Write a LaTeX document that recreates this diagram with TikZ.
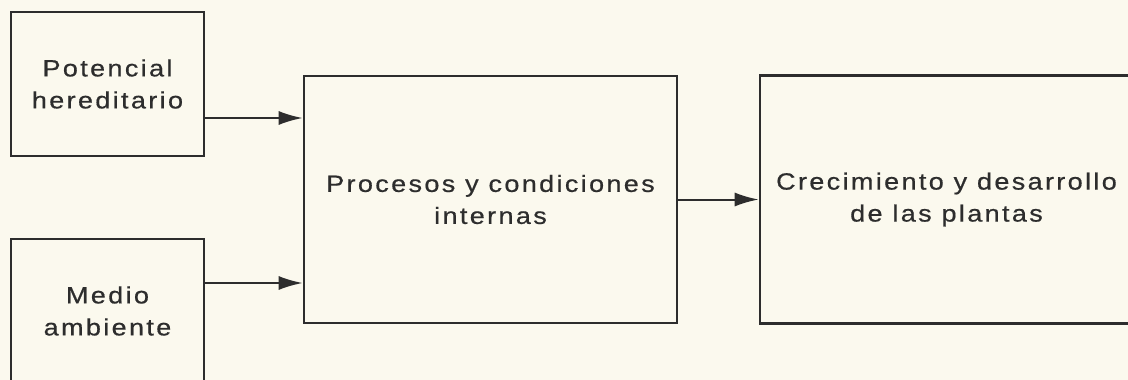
\documentclass[tikz,border=0pt]{standalone}
\usepackage{fontspec}
\setmainfont{Liberation Sans}[LetterSpace=10, FakeStretch=1.15, FakeBold=0.6]
\usepackage{tikz}
\usetikzlibrary{
    arrows.meta,
    positioning
}
\definecolor{paper}{RGB}{251,249,238}
\definecolor{ink}{RGB}{45,45,45}

\begin{document}
\begin{tikzpicture}[x=1pt, y=-1pt,
    caja/.style={draw=ink, line width=2.6pt, align=center, text=ink, inner sep=0pt,
        font=\fontsize{23.5}{32}\selectfont},
    flecha/.style={draw=ink, line width=2pt, -{Latex[length=24pt, width=14pt]}}]
                                    \fill[paper] (0, 0) rectangle (1128, 380);
                                    \useasboundingbox (0, 0) rectangle (1128, 380);
                                    \node[caja, minimum width=193, minimum height=144] (pot) at (107.5, 84) {Potencial\\hereditario};
                                    \node[caja, minimum width=193, minimum height=144] (med) at (107.5, 311) {Medio\\ambiente};
                                    \node[caja, minimum width=373, minimum height=247] (proc) at (490.5, 199.5) {Procesos y condiciones\\internas};
                                    \node[caja, minimum width=373, minimum height=248] (crec) at (946.5, 199.5) {Crecimiento y desarrollo\\de las plantas};
                                    \draw
                                    ([yshift=-34]pot.east) edge[flecha] ([yshift=-34]pot.east -| proc.west)
                                    ([yshift=28]med.east) edge[flecha] ([yshift=28]med.east -| proc.west)
                                    (proc) edge[flecha] (crec);
                                \end{tikzpicture}
\end{document}
